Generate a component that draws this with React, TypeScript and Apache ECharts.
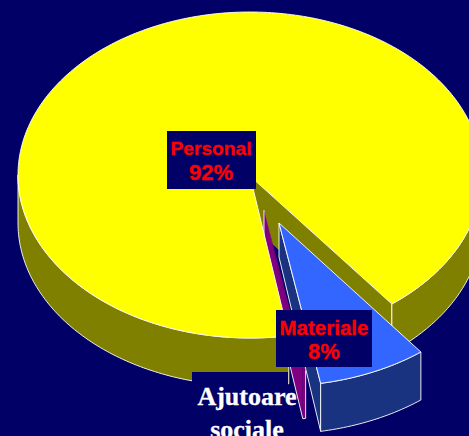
import React, { useEffect, useRef } from "react";
import * as echarts from "echarts";

const categories = ["Materiale", "Ajutoare sociale", "Personal"];
const shares = [7.6, 0.2, 92.2];
const labelLines = [["Materiale", "8%"], ["Ajutoare", "sociale"], ["Personal", "92%"]];
const topColors = ["#3366FF", "#800080", "#FFFF00"];
const wallColors = ["#1A3380", "#800080", "#808000"];

const W = 469;
const H = 436;
const BG = "#000066";
const RX = 232;
const RY = 163;
const DEPTH = 48;
const START = 37.7;
const EDGE = "rgba(255,255,255,0.9)";

// geometry of every exploded slice: apex, ellipse centre, stacking order
const layout = [
  { apex: [279, 223], centre: [279, 223], apexDepth: 34, zWall: 6, zTop: 7 },
  { apex: [264, 210], centre: [264, 210], apexDepth: 48, zWall: 3, zTop: 4 },
  { apex: [250, 176], centre: [250, 175], apexDepth: 48, zWall: 1, zTop: 5 },
];
const boxes = [
  { x: 276, y: 310, w: 96, h: 57, tx: 324, lines: [[327, 20.5], [351, 22]] },
  { x: 192, y: 372, w: 96, h: 64, tx: 247, lines: [[396, 26], [429, 26]] },
  { x: 167, y: 131, w: 89, h: 58, tx: 211, lines: [[148, 19.2], [172, 22]] },
];

function rim(c: number[], deg: number, dy = 0) {
  const t = (deg * Math.PI) / 180;
  return [c[0] + RX * Math.sin(t), c[1] + RY * Math.cos(t) + dy];
}
function arc(c: number[], from: number, to: number, dy = 0) {
  const n = Math.max(2, Math.ceil(Math.abs(to - from)));
  const out: number[][] = [];
  for (let i = 0; i <= n; i++) out.push(rim(c, from + ((to - from) * i) / n, dy));
  return out;
}
function band(c: number[], from: number, to: number) {
  return [...arc(c, from, to), ...arc(c, to, from, DEPTH)];
}

const total = shares.reduce((a, b) => a + b, 0);

function renderItem(params: any, api: any) {
  const i = params.dataIndex;
  let before = 0;
  for (let k = 0; k < i; k++) before += shares[k];
  const a0 = START - (before / total) * 360;
  const a1 = a0 - (api.value(0) / total) * 360;
  const { apex, centre, apexDepth, zWall, zTop } = layout[i];
  const top = topColors[i];
  const wall = wallColors[i];
  const children: any[] = [];
  const poly = (points: number[][], fill: string, z2: number, stroke: any = EDGE) =>
    children.push({
      type: "polygon",
      shape: { points },
      style: { fill, stroke, lineWidth: 1 },
      z2,
    });

  if (i === 2) {
    // inner wall under the edge where the big slice ends
    const corner = rim(centre, a1);
    poly(
      [apex, corner, [corner[0], corner[1] + DEPTH], [apex[0], apex[1] + DEPTH]],
      wall,
      zWall,
      "none"
    );
    children.push({
      type: "line",
      shape: { x1: corner[0], y1: corner[1], x2: corner[0], y2: corner[1] + DEPTH },
      style: { stroke: "#D8D8B0", lineWidth: 1.5 },
      z2: zWall,
    });
    poly(band(centre, a1 + 360, 90), wall, zWall);
    poly(band(centre, a0, -90), wall, zWall);
    poly([apex, ...arc(centre, a0, a1)], top, zTop);
  } else if (i === 1) {
    // the thin slice: filled without outline, white only on its left and lower sides
    const e = rim(centre, a1);
    const s = rim(centre, a0);
    poly(
      [apex, e, [e[0], e[1] + DEPTH], [apex[0], apex[1] + apexDepth]],
      wall,
      zWall,
      "none"
    );
    poly(band(centre, a0, a1), wall, zWall, "none");
    poly([apex, ...arc(centre, a0, a1)], top, zTop, "none");
    children.push({
      type: "polyline",
      shape: {
        points: [
          apex,
          [apex[0], apex[1] + apexDepth],
          [e[0], e[1] + DEPTH],
          [s[0], s[1] + DEPTH],
          s,
        ],
      },
      style: { stroke: EDGE, lineWidth: 1, fill: "none" },
      z2: zWall,
    });
  } else {
    const e = rim(centre, a1);
    poly(
      [apex, e, [e[0], e[1] + DEPTH], [apex[0], apex[1] + apexDepth]],
      wall,
      zWall
    );
    poly(band(centre, a0, a1), wall, zWall);
    poly([apex, ...arc(centre, a0, a1)], top, zTop);
  }

  const b = boxes[i];
  children.push({
    type: "rect",
    shape: { x: b.x, y: b.y, width: b.w, height: b.h },
    style: { fill: BG },
    z2: 20,
  });
  const serif = i === 1;
  labelLines[i].forEach((text, k) => {
    children.push({
      type: "text",
      style: {
        x: b.tx,
        y: b.lines[k][0],
        text,
        fill: serif ? "#FFFFFF" : "#FF0000",
        stroke: serif ? "#FFFFFF" : "#FF0000",
        lineWidth: 0.3,
        font: `bold ${b.lines[k][1]}px "${serif ? "Liberation Serif" : "Liberation Sans"}"`,
        align: "center",
        verticalAlign: "middle",
      },
      z2: 21,
    });
  });
  return { type: "group", children };
}

export default function App() {
  const ref = useRef<HTMLDivElement>(null);
  useEffect(() => {
    document.body.style.margin = "0";
    const chart = echarts.init(ref.current!, undefined, { renderer: "svg" });
    chart.setOption({
      animation: false,
      backgroundColor: BG,
      series: [
        {
          type: "custom",
          coordinateSystem: "none",
          silent: true,
          clip: false,
          renderItem,
          data: categories.map((name, i) => ({ name, value: [shares[i]] })),
        },
      ],
    });
    return () => chart.dispose();
  }, []);
  return <div ref={ref} style={{ width: W, height: H, overflow: "hidden" }} />;
}
